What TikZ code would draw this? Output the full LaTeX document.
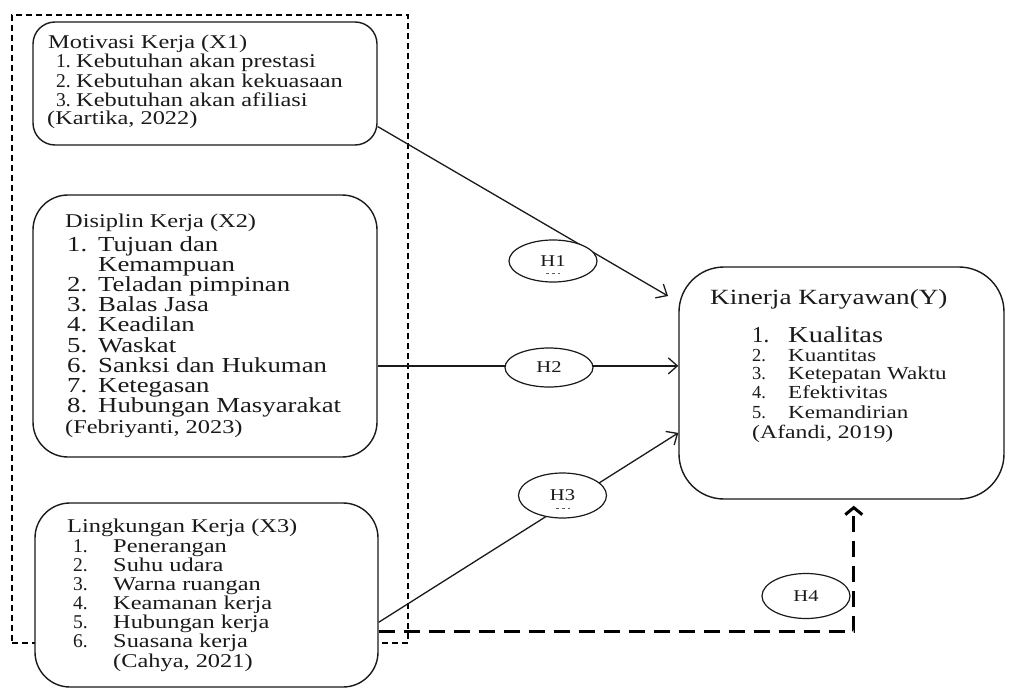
\documentclass[tikz,border=0pt]{standalone}
\usepackage{fontspec}
\setmainfont{Liberation Serif}[FakeStretch=1.25]
\newfontfamily\numfont{Liberation Serif}
\usetikzlibrary{arrows.meta,shapes.geometric}
\definecolor{ink}{HTML}{1A1A1A}
\newcommand\fs[1]{\fontsize{#1}{#1}\selectfont}
\newcommand\nf{\numfont}
% #1 extra style, #2 name, #3 number x, #4 text x, #5 baseline y, #6 number, #7 text
\newcommand\rowitem[7][]{%
  \node[txt,#1] (#2n) at (#3,#5) {\nf #6};
  \node[txt,#1] (#2t) at (#4,#5) {#7};}
\begin{document}
\begin{tikzpicture}[x=1pt,y=-1pt,
  txt/.style={anchor=base west,inner sep=0pt,text=ink,font=\fs{19.5}},
  sz/.style={font=\fs{#1}},
  box/.style={draw=ink,line width=1.4pt,fill=white,inner sep=0pt},
  grpbox/.style={draw=black,line width=1.2pt,dash pattern=on 6pt off 4pt,inner sep=0pt},
  hyp/.style={ellipse,draw=ink,line width=1.2pt,fill=white,inner sep=0pt,
    minimum width=88pt,minimum height=42pt,font=\fs{16.5},text=ink},
  conn/.style={draw=ink,line width=1.3pt,-{Straight Barb[length=9pt,width=16pt]}},
  thick dash/.style={draw=black,line width=3pt,dash pattern=on 16pt off 9pt,
    -{Straight Barb[length=7pt,width=17pt]}},
  tick/.style={draw=ink!70,line width=0.7pt,dash pattern=on 3pt off 3pt}]
\useasboundingbox (0,0) rectangle (1012,688);
\fill[white] (0,0) rectangle (1012,688);

% group frame
\node[grpbox,minimum width=396pt,minimum height=628pt] (grp) at (210,329) {};

% boxes
\node[box,rounded corners=22pt,minimum width=344pt,minimum height=123pt] (x1) at (205,83.5) {};
\node[box,rounded corners=35pt,minimum width=344pt,minimum height=262pt] (x2) at (205,326) {};
\node[box,rounded corners=35pt,minimum width=343pt,minimum height=184pt] (x3) at (206.5,595) {};
\node[box,rounded corners=45pt,minimum width=325pt,minimum height=232pt] (y) at (841.5,383) {};

% X1 text
\node[txt] (x1title) at (48,48) {Motivasi Kerja (X1)};
\rowitem{x1a}{56}{76}{67.5}{1.}{Kebutuhan akan prestasi}
\rowitem{x1b}{56}{76}{87}{2.}{Kebutuhan akan kekuasaan}
\rowitem{x1c}{56}{76}{106}{3.}{Kebutuhan akan afiliasi}
\node[txt] (x1src) at (47,124) {(Kartika, 2022)};

% X2 text
\node[txt] (x2title) at (65,227) {Disiplin Kerja (X2)};
\renewcommand\nf{}
\rowitem[sz=21.4]{x2a}{67}{98}{251}{1.}{Tujuan dan}
\node[txt,sz=21.4] (x2a2) at (98,271) {Kemampuan};
\rowitem[sz=21.4]{x2b}{67}{98}{291}{2.}{Teladan pimpinan}
\rowitem[sz=21.4]{x2c}{67}{98}{311}{3.}{Balas Jasa}
\rowitem[sz=21.4]{x2d}{67}{98}{331.5}{4.}{Keadilan}
\rowitem[sz=21.4]{x2e}{67}{98}{352}{5.}{Waskat}
\rowitem[sz=21.4]{x2f}{67}{98}{372}{6.}{Sanksi dan Hukuman}
\rowitem[sz=21.4]{x2g}{67}{98}{392}{7.}{Ketegasan}
\rowitem[sz=21.4]{x2h}{67}{98}{412.5}{8.}{Hubungan Masyarakat}
\node[txt] (x2src) at (65,433) {(Febriyanti, 2023)};
\renewcommand\nf{\numfont}

% X3 text
\node[txt] (x3title) at (67,532.5) {Lingkungan Kerja (X3)};
\rowitem{x3a}{73}{113}{552.5}{1.}{Penerangan}
\rowitem{x3b}{73}{113}{571.5}{2.}{Suhu udara}
\rowitem{x3c}{73}{113}{590}{3.}{Warna ruangan}
\rowitem{x3d}{73}{113}{609}{4.}{Keamanan kerja}
\rowitem{x3e}{73}{113}{628}{5.}{Hubungan kerja}
\rowitem{x3f}{73}{113}{647.5}{6.}{Suasana kerja}
\node[txt] (x3src) at (113,667) {(Cahya, 2021)};

% Y text
\node[txt,sz=21.7] (ytitle) at (710,304) {Kinerja Karyawan(Y)};
\rowitem[sz=22.8]{ya}{752}{788}{342}{1.}{Kualitas}
\rowitem[sz=18.4]{yb}{752}{788}{361}{2.}{Kuantitas}
\rowitem[sz=18.4]{yc}{752}{788}{379.5}{3.}{Ketepatan Waktu}
\rowitem[sz=18.4]{yd}{752}{788}{398.5}{4.}{Efektivitas}
\rowitem[sz=18.4]{ye}{752}{788}{418}{5.}{Kemandirian}
\node[txt,sz=19] (ysrc) at (752,438) {(Afandi, 2019)};

% connectors
\coordinate (h1tip) at (668,296);
\draw[conn] (x1.-14.5) -- (h1tip);
\draw[conn] (x2.-13.4) -- (x2.-13.4 -| y.west);
\draw[conn] (x3.-9.6) -- (y.197.1);
\draw[thick dash,shorten >=6pt] (x3.-12.8) -| (y.-84.83);

% hypothesis ellipses
\node[hyp] (h1) at (553,261) {H1};
\node[hyp,minimum height=39pt] (h2) at (549,367.5) {H2};
\node[hyp,minimum height=45pt] (h3) at (562.5,495.5) {H3};
\node[hyp,minimum height=45pt] (h4) at (806,596) {H4};
\draw[tick] ([xshift=-7pt,yshift=-12pt]h1.center) -- ([xshift=7pt,yshift=-12pt]h1.center);
\draw[tick] ([xshift=-7pt,yshift=-13pt]h3.center) -- ([xshift=7pt,yshift=-13pt]h3.center);
\end{tikzpicture}
\end{document}
